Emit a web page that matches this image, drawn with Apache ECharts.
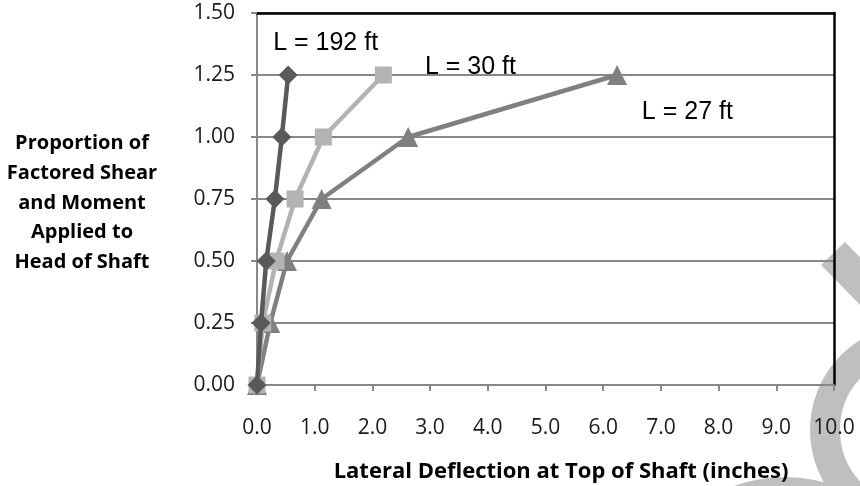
<!DOCTYPE html>
<html><head><meta charset="utf-8">
<script src="https://cdn.jsdelivr.net/npm/echarts@6/dist/echarts.min.js"></script>
<style>html,body{margin:0;padding:0;background:#fff}#c{width:860px;height:486px}</style>
</head><body><div id="c"></div>
<script>
// Data (x = lateral deflection in inches, y = proportion of factored shear/moment)
const proportion = [0, 0.25, 0.5, 0.75, 1.0, 1.25];
const defl192 = [0, 0.07, 0.16, 0.31, 0.43, 0.54];
const defl30  = [0, 0.10, 0.33, 0.66, 1.15, 2.19];
const defl27  = [0, 0.23, 0.52, 1.12, 2.62, 6.24];
const seriesNames = ['L = 192 ft', 'L = 30 ft', 'L = 27 ft'];
const labelCoords = [[0.28, 1.38], [2.91, 1.28], [6.67, 1.10]];
const xTitle = 'Lateral Deflection at Top of Shaft (inches)';
const yTitle = 'Proportion of\nFactored Shear\nand Moment\nApplied to\nHead of Shaft';

const pairs = d => d.map((x, i) => [x, proportion[i]]);
const chart = echarts.init(document.getElementById('c'), null, {renderer: 'canvas'});
const tickFont = {fontFamily: 'Open Sans', fontSize: 21, color: '#1a1a1a'};
const lblFont = {fontFamily: 'Liberation Sans', fontSize: 25, color: '#000'};

function mk(i, data, color, symbol, size) {
  return {
    name: seriesNames[i], type: 'line', data: pairs(data),
    symbol: symbol, symbolSize: size, showAllSymbol: true,
    lineStyle: {color: color, width: 4.5}, itemStyle: {color: color},
    z: 3 + (2 - i),
    markPoint: {
      symbol: 'circle', symbolSize: 0,
      data: [{coord: labelCoords[i]}],
      label: {show: true, position: 'right', distance: 0, formatter: seriesNames[i], ...lblFont}
    }
  };
}

chart.setOption({
  animation: false,
  grid: {left: 257, right: 26, top: 13, bottom: 101, containLabel: false, outerBoundsMode: 'none'},
  xAxis: [{
    type: 'value', min: 0, max: 10, interval: 1, position: 'bottom',
    axisLine: {onZero: false, lineStyle: {color: '#888', width: 2}},
    axisTick: {show: true, length: 6, lineStyle: {color: '#888', width: 2}},
    axisLabel: {margin: 33, formatter: v => v.toFixed(1), ...tickFont},
    splitLine: {show: false}
  }, {
    type: 'value', min: 0, max: 10, position: 'top',
    axisLine: {show: true, onZero: false, lineStyle: {color: '#000', width: 2.5}},
    axisTick: {show: false}, axisLabel: {show: false}, splitLine: {show: false}
  }],
  yAxis: [{
    type: 'value', min: 0, max: 1.5, interval: 0.25, position: 'left',
    axisLine: {show: true, onZero: false, lineStyle: {color: '#888', width: 2}},
    axisTick: {show: true, length: 6, lineStyle: {color: '#888', width: 2}},
    axisLabel: {margin: 22, formatter: v => v.toFixed(2), ...tickFont},
    splitLine: {show: true, lineStyle: {color: '#888', width: 2}}
  }, {
    type: 'value', min: 0, max: 1.5, position: 'right',
    axisLine: {show: true, onZero: false, lineStyle: {color: '#000', width: 2.5}},
    axisTick: {show: false}, axisLabel: {show: false}, splitLine: {show: false}
  }],
  graphic: [
    {type: 'polygon', z: -10, shape: {points: [[821,265],[845,242],[900,298],[876,321]]}, style: {fill: '#bfbfbf'}},
    {type: 'circle', z: -10, shape: {cx: 916, cy: 430, r: 91}, style: {fill: 'none', stroke: '#bfbfbf', lineWidth: 30}},
    {type: 'circle', z: -10, shape: {cx: 785, cy: 627, r: 150}, style: {fill: '#bfbfbf'}},
    {type: 'text', z: 10, style: {text: xTitle, x: 561, y: 472, align: 'center', verticalAlign: 'middle',
      fontFamily: 'Open Sans', fontSize: 22, fontWeight: 'bold', fill: '#000'}},
    {type: 'text', z: 10, style: {text: yTitle, x: 82, y: 203, align: 'center', verticalAlign: 'middle',
      fontFamily: 'Open Sans', fontSize: 20, fontWeight: 'bold', lineHeight: 29.75, fill: '#000'}}
  ],
  series: [
    mk(0, defl192, '#595959', 'diamond', 19),
    mk(1, defl30, '#b3b3b3', 'rect', 17),
    mk(2, defl27, '#808080', 'triangle', 20)
  ]
});
</script></body></html>
